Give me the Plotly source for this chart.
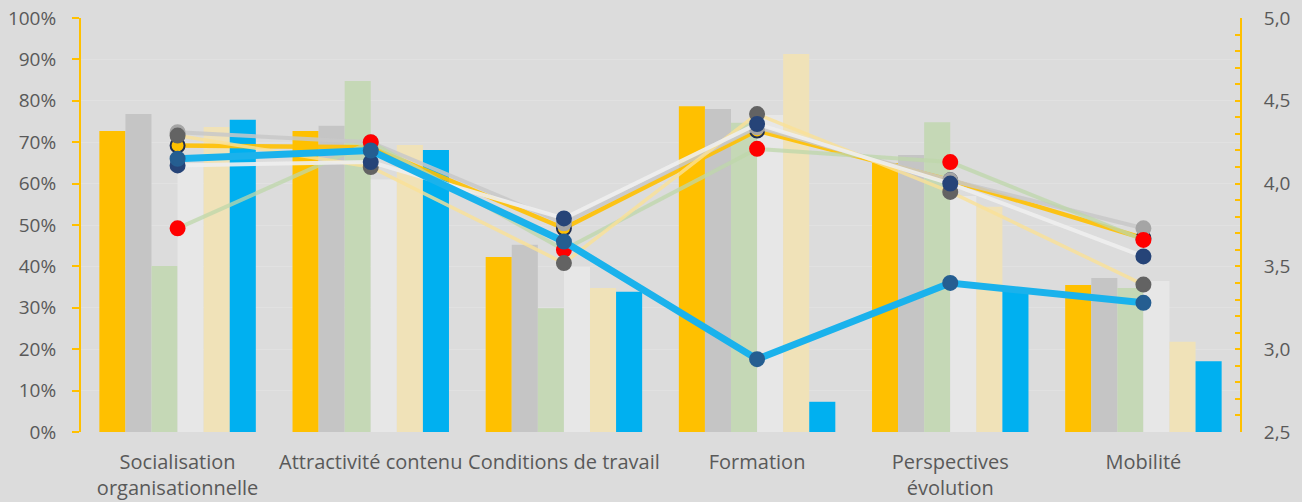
import plotly.graph_objects as go

categories = ["Socialisation<br>organisationnelle", "Attractivité contenu", "Conditions de travail",
              "Formation", "Perspectives<br>évolution", "Mobilité"]

# bar series (share, left axis)
bar_names = ["S1", "S2", "S3", "S4", "S5", "S6"]
bar_yellow = [0.727, 0.727, 0.423, 0.787, 0.650, 0.355]
bar_grey = [0.768, 0.740, 0.452, 0.780, 0.669, 0.372]
bar_green = [0.401, 0.848, 0.299, 0.747, 0.748, 0.348]
bar_white = [0.650, 0.610, 0.399, 0.766, 0.570, 0.365]
bar_lightyellow = [0.737, 0.693, 0.348, 0.913, 0.544, 0.218]
bar_blue = [0.754, 0.681, 0.339, 0.073, 0.343, 0.171]

# score series (right axis)
score_yellow = [4.23, 4.22, 3.73, 4.32, 4.02, 3.67]
score_grey = [4.31, 4.25, 3.76, 4.34, 4.02, 3.73]
score_green = [3.73, 4.25, 3.60, 4.21, 4.13, 3.66]
score_white = [4.11, 4.13, 3.79, 4.36, 4.00, 3.56]
score_lightyellow = [4.29, 4.10, 3.52, 4.42, 3.95, 3.39]
score_blue = [4.15, 4.20, 3.65, 2.94, 3.40, 3.28]

bar_series = [
    (bar_yellow, "#FFC000"),
    (bar_grey, "#C5C5C5"),
    (bar_green, "#C5D8B6"),
    (bar_white, "#E7E7E7"),
    (bar_lightyellow, "#F0E2B8"),
    (bar_blue, "#00B0F0"),
]

# (values, line colour, line width, marker fill, marker outline)
line_series = [
    (score_yellow, "rgba(255,192,0,0.9)", 4.5, "#FFC000", "#1F2D4F"),
    (score_grey, "rgba(200,200,200,0.85)", 4, "#A5A5A5", "#A5A5A5"),
    (score_green, "rgba(190,215,170,0.75)", 4, "#FF0000", "#FF0000"),
    (score_lightyellow, "rgba(250,225,150,0.8)", 3.5, "#636363", "#636363"),
    (score_white, "rgba(238,238,238,0.9)", 4, "#264478", "#264478"),
    (score_blue, "#1AB2EC", 7, "#255E91", "#255E91"),
]

fig = go.Figure()

for name, (vals, col) in zip(bar_names, bar_series):
    fig.add_trace(go.Bar(x=categories, y=vals, name=name, marker_color=col,
                         marker_line_width=0, yaxis="y"))

for vals, lcol, lw, mcol, mline in line_series:
    fig.add_trace(go.Scatter(
        x=categories, y=vals, yaxis="y2", mode="lines+markers",
        line=dict(color=lcol, width=lw),
        marker=dict(size=14, color=mcol, line=dict(color=mline, width=2)),
    ))

font_col = "#595959"
axis_col = "#FFC000"

fig.update_layout(
    width=1302, height=502,
    paper_bgcolor="#DCDCDC", plot_bgcolor="#DCDCDC",
    margin=dict(l=81, r=62, t=18, b=70),
    barmode="group", bargap=0.19, bargroupgap=0,
    showlegend=False,
    font=dict(family="Open Sans, Calibri, sans-serif", size=19, color=font_col),
    xaxis=dict(showgrid=False, showline=False, ticks="", ticklabelstandoff=16,
               automargin=False, tickfont=dict(size=20, color=font_col)),
    yaxis=dict(range=[0, 1], tickvals=[i / 10 for i in range(11)],
               ticktext=[f"{i * 10}%" for i in range(11)],
               showgrid=True, gridcolor="#E1E1E1", gridwidth=1,
               showline=True, linecolor=axis_col, linewidth=2,
               ticks="outside", ticklen=7, tickcolor=axis_col, tickwidth=2,
               ticklabelstandoff=12, automargin=False,
               zeroline=False, tickfont=dict(size=19, color=font_col)),
    yaxis2=dict(range=[2.5, 5.0], overlaying="y", side="right",
                tickvals=[2.5, 3.0, 3.5, 4.0, 4.5, 5.0],
                ticktext=["2,5", "3,0", "3,5", "4,0", "4,5", "5,0"],
                showgrid=False, zeroline=False,
                showline=True, linecolor=axis_col, linewidth=2,
                ticks="inside", ticklen=5, tickcolor=axis_col, tickwidth=2,
                minor=dict(dtick=0.1, ticks="inside", ticklen=5, tickcolor=axis_col, tickwidth=2),
                ticklabelstandoff=18, automargin=False,
                tickfont=dict(size=19, color=font_col)),
)

fig.write_html("out.html", config={"displayModeBar": False},
               post_script="document.body.style.margin='0';")
